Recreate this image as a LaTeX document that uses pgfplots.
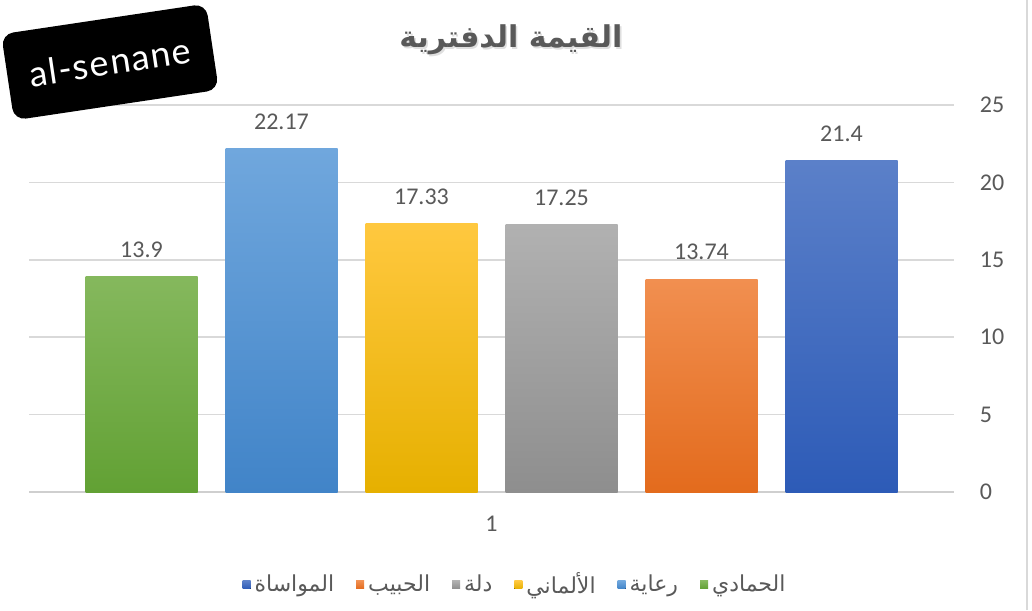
\documentclass[border=0pt]{standalone}
\usepackage{pgfplots}
\pgfplotsset{compat=1.18}
\usepackage{fontspec}
\setmainfont{Carlito}
\newfontfamily\arabicfont[Script=Arabic]{DejaVu Sans}
\newfontfamily\wmfont[LetterSpace=4]{Lato}
\TeXXeTstate=1
\definecolor{txt}{HTML}{595959}
\definecolor{gridgray}{HTML}{D9D9D9}
\definecolor{axisgray}{HTML}{CFCFCF}
\definecolor{gT}{HTML}{85B85D}\definecolor{gB}{HTML}{62A134}
\definecolor{lbT}{HTML}{70A7DD}\definecolor{lbB}{HTML}{4184C8}
\definecolor{yT}{HTML}{FFC83F}\definecolor{yB}{HTML}{E6B000}
\definecolor{grT}{HTML}{B1B1B1}\definecolor{grB}{HTML}{8E8E8E}
\definecolor{oT}{HTML}{F18F50}\definecolor{oB}{HTML}{E36B1D}
\definecolor{dbT}{HTML}{5B80C9}\definecolor{dbB}{HTML}{2D5BB7}
\begin{document}
\begin{tikzpicture}
\path[use as bounding box] (0,0) rectangle (516pt,305pt);
\draw[gridgray, line width=1pt] (513.5pt,0) -- (513.5pt,305pt);
\begin{axis}[
  at={(14.5pt,59pt)}, anchor=south west, scale only axis,
  width=462.5pt, height=193.5pt,
  xmin=0, xmax=2, ymin=0, ymax=25,
  ybar=14pt, bar width=56pt,
  xtick={1}, ytick={0,5,10,15,20,25},
  axis x line*=bottom, axis y line*=right,
  x axis line style={draw=axisgray, line width=0.9pt, -},
  y axis line style={draw=none},
  ymajorgrids, grid style={draw=gridgray, line width=0.8pt},
  major tick length=0pt, tick style={draw=none},
  ticklabel style={font=\fontsize{12}{14}\selectfont, text=txt},
  /pgf/number format/assume math mode=true,
  yticklabel style={anchor=west, inner sep=0pt, xshift=12.75pt},
  xticklabel style={anchor=north, inner sep=0pt, yshift=-12pt},
  point meta=explicit symbolic,
  nodes near coords,
  every node near coord/.append style={font=\fontsize{12}{14}\selectfont, text=txt, anchor=south, inner sep=0pt, yshift=9.5pt},
  clip=false,
  reverse legend,
  legend image code/.code={\fill[#1] (0pt,-2pt) rectangle (4pt,2pt);},
  legend style={at={(0.5265,-0.24)}, anchor=center, draw=none, fill=none,
    legend columns=6, font=\arabicfont\fontsize{11}{13}\selectfont, text=txt,
    /tikz/every even column/.append style={column sep=9pt}},
]
\addplot[draw=none, top color=gT, bottom color=gB] coordinates {(1,13.9) [13.9]};
\addlegendentry{\beginR الحمادي\endR}
\addplot[draw=none, top color=lbT, bottom color=lbB] coordinates {(1,22.17) [22.17]};
\addlegendentry{\beginR رعاية\endR}
\addplot[draw=none, top color=yT, bottom color=yB] coordinates {(1,17.33) [17.33]};
\addlegendentry{\beginR الألماني\endR}
\addplot[draw=none, top color=grT, bottom color=grB] coordinates {(1,17.25) [17.25]};
\addlegendentry{\beginR دلة\endR}
\addplot[draw=none, top color=oT, bottom color=oB] coordinates {(1,13.74) [13.74]};
\addlegendentry{\beginR الحبيب\endR}
\addplot[draw=none, top color=dbT, bottom color=dbB] coordinates {(1,21.4) [21.4]};
\addlegendentry{\beginR المواساة\endR}
\end{axis}
\node[text=gray!25, font=\arabicfont\bfseries\fontsize{15}{18}\selectfont] at (256.3pt,284.2pt) {\beginR القيمة الدفترية\endR};
\node[text=txt, font=\arabicfont\bfseries\fontsize{15}{18}\selectfont] at (255.5pt,285pt) {\beginR القيمة الدفترية\endR};
\node[rotate=8.5, fill=black, rounded corners=6pt, minimum width=103.5pt, minimum height=43.5pt, text=white, font=\wmfont\fontsize{18}{20}\selectfont] at (55pt,274pt) {al-senane};
\end{tikzpicture}
\end{document}
